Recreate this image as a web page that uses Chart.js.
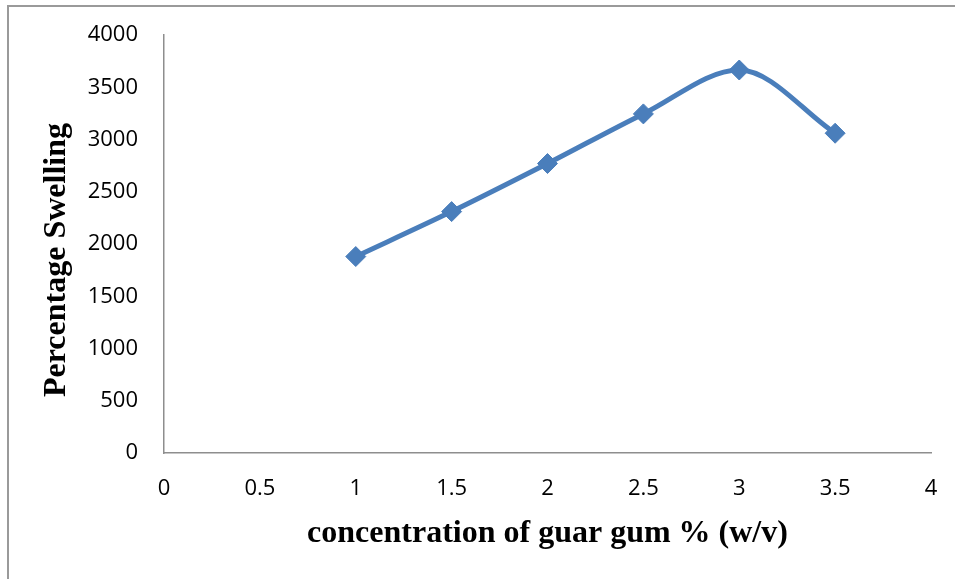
<!DOCTYPE html>
<html>
<head>
<meta charset="utf-8">
<script src="https://cdn.jsdelivr.net/npm/chart.js@4"></script>
<style>
    html, body { margin: 0; padding: 0; background: #fff; overflow: hidden; }
    #wrap { position: relative; width: 955px; height: 579px; }
    #frame { position: absolute; left: 7px; top: 5px; width: 960px; height: 600px;
             border-left: 2px solid #9a9a9a; border-top: 2px solid #9a9a9a; }
    canvas { position: absolute; left: 0; top: 0; }
</style>
</head>
<body>
<div id="wrap">
    <div id="frame"></div>
    <canvas id="myChart" width="955" height="579"></canvas>
</div>
<script>
const concentration = [1, 1.5, 2, 2.5, 3, 3.5];
const swelling = [1880, 2310, 2770, 3245, 3665, 3060];
const xTicks = [0, 0.5, 1, 1.5, 2, 2.5, 3, 3.5, 4];
const yTicks = [0, 500, 1000, 1500, 2000, 2500, 3000, 3500, 4000];

const swellingChart = document.getElementById('myChart');
const axisColor = '#8e8e8e';
const tickFont = { family: "'Open Sans', sans-serif", size: 22 };
const titleFont = { family: "'Liberation Serif', 'Times New Roman', serif", size: 32, weight: 'bold' };

document.addEventListener("DOMContentLoaded", function () {

    let points = [];
    for (let i = 0; i < concentration.length; i++) {
        points.push({ x: concentration[i], y: swelling[i] });
    }

    new Chart(swellingChart, {
        type: 'line',
        data: {
            datasets: [{
                label: 'Percentage Swelling',
                data: points,
                borderColor: '#4a7ebb',
                backgroundColor: '#4a7ebb',
                borderWidth: 5,
                cubicInterpolationMode: 'monotone',
                pointStyle: 'rectRot',
                pointRadius: 10,
                pointBorderWidth: 1,
                pointBorderColor: '#4a7ebb',
                fill: false
            }]
        },
        options: {
            responsive: false,
            animation: false,
            layout: { autoPadding: false, padding: { top: 35, right: 24, left: 0, bottom: 0 } },
            plugins: { legend: { display: false }, tooltip: { enabled: false } },
            scales: {
                x: {
                    type: 'linear',
                    min: 0,
                    max: 4,
                    afterBuildTicks: function (axis) {
                        axis.ticks = xTicks.map(v => ({ value: v }));
                    },
                    afterFit: function (axis) {
                        axis.height = 126;
                        axis.paddingRight = 0;
                        axis.paddingLeft = 0;
                    },
                    grid: { color: 'transparent', drawTicks: false, tickLength: 0 },
                    border: { display: true, color: axisColor, width: 1.5 },
                    ticks: {
                        color: '#000', font: tickFont, padding: 23, maxRotation: 0,
                        callback: v => String(v)
                    },
                    title: {
                        display: true,
                        text: 'concentration of guar gum % (w/v)',
                        color: '#000',
                        font: titleFont,
                        padding: { top: 0, bottom: 26 }
                    }
                },
                y: {
                    min: 0,
                    max: 4000,
                    afterBuildTicks: function (axis) {
                        axis.ticks = yTicks.map(v => ({ value: v }));
                    },
                    afterFit: function (axis) {
                        axis.width = 164;
                        axis.paddingTop = 0;
                        axis.paddingBottom = 0;
                    },
                    grid: { color: 'transparent', drawTicks: false, tickLength: 0 },
                    border: { display: true, color: axisColor, width: 1.5 },
                    ticks: { color: '#000', font: tickFont, padding: 26, callback: v => String(v) },
                    title: {
                        display: true,
                        text: 'Percentage Swelling    ',
                        color: '#000',
                        font: titleFont,
                        padding: { top: 38, bottom: 0 }
                    }
                }
            }
        }
    });
});
</script>
</body>
</html>
